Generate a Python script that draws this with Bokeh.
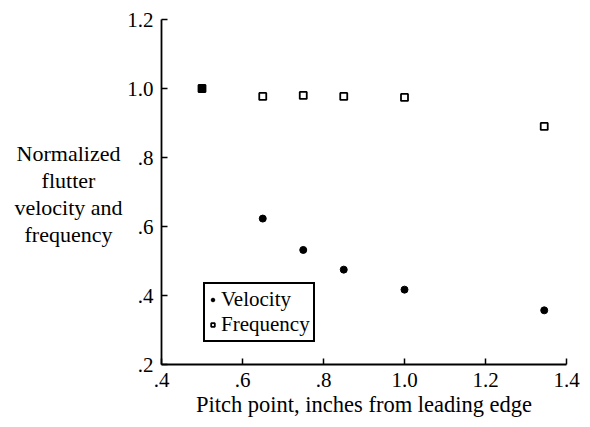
from bokeh.plotting import figure
from bokeh.layouts import row
from bokeh.models import (ColumnDataSource, Range1d, FixedTicker, Legend, LegendItem)
from bokeh.core.properties import value
from bokeh.embed import file_html
from bokeh.resources import INLINE

# ---- data ----
pitch_point = [0.5, 0.65, 0.75, 0.85, 1.0, 1.345]
velocity = [1.0, 0.623, 0.532, 0.475, 0.417, 0.357]
frequency = [1.0, 0.977, 0.98, 0.977, 0.974, 0.890]

x_ticks = [0.4, 0.6, 0.8, 1.0, 1.2, 1.4]
x_tick_labels = [".4", ".6", ".8", "1.0", "1.2", "1.4"]
y_ticks = [0.2, 0.4, 0.6, 0.8, 1.0, 1.2]
y_tick_labels = [".2", ".4", ".6", ".8", "1.0", "1.2"]

y_title_lines = ["Normalized", "flutter", "velocity and", "frequency"]
x_title = "Pitch point, inches from leading edge"

FONT = "Liberation Serif"
H = 419
LEFT_W = 124

# ---- left panel holding the horizontal y-axis title ----
pl = figure(frame_width=LEFT_W, frame_height=H, output_backend="svg", toolbar_location=None,
            x_range=Range1d(0, LEFT_W), y_range=Range1d(H, 0),
            x_axis_location=None, y_axis_location=None,
            min_border=0, min_border_left=0, min_border_right=0,
            min_border_top=0, min_border_bottom=0)
pl.outline_line_color = None
pl.xgrid.grid_line_color = None
pl.ygrid.grid_line_color = None
title_src = ColumnDataSource(dict(
    x=[68] * len(y_title_lines),
    y=[134, 161, 188, 215],
    t=y_title_lines))
pl.text(x="x", y="y", text="t", source=title_src, text_align="center",
        text_baseline="alphabetic", text_font=value(FONT), text_font_size="22px",
        text_color="black")

# ---- main chart ----
src = ColumnDataSource(dict(x=pitch_point, v=velocity, f=frequency))

p = figure(width=582 - LEFT_W, height=H, output_backend="svg", toolbar_location=None,
           x_range=Range1d(0.4, 1.4), y_range=Range1d(0.2, 1.2),
           min_border_left=161 - LEFT_W, min_border_right=16, min_border_top=19,
           min_border_bottom=H - 364)
p.outline_line_color = None
p.xgrid.grid_line_color = None
p.ygrid.grid_line_color = None

for ax, ticks, labels in ((p.xaxis[0], x_ticks, x_tick_labels), (p.yaxis[0], y_ticks, y_tick_labels)):
    ax.ticker = FixedTicker(ticks=ticks)
    ax.major_label_overrides = {t: l for t, l in zip(ticks, labels)}
    ax.minor_tick_line_color = None
    ax.major_tick_in = 6
    ax.major_tick_out = 0
    ax.major_tick_line_width = 1.5
    ax.axis_line_width = 1.8
    ax.axis_line_color = "black"
    ax.major_tick_line_color = "black"
    ax.major_label_text_font = FONT
    ax.major_label_text_font_size = "21px"
    ax.major_label_text_color = "black"

p.xaxis[0].major_label_standoff = 8
p.yaxis[0].major_label_standoff = 8
p.xaxis[0].axis_label = x_title
p.xaxis[0].axis_label_text_font = FONT
p.xaxis[0].axis_label_text_font_size = "22.5px"
p.xaxis[0].axis_label_text_font_style = "normal"
p.xaxis[0].axis_label_text_color = "black"
p.xaxis[0].axis_label_standoff = 2

r_f = p.scatter("x", "f", source=src, marker="square", size=7, fill_color="white",
                line_color="black", line_width=1.8)
r_v = p.scatter("x", "v", source=src, marker="circle", size=7, fill_color="black",
                line_color="black")

legend = Legend(items=[LegendItem(label="Velocity", renderers=[r_v]),
                       LegendItem(label="Frequency", renderers=[r_f])],
                location=(42, 22))
legend.label_text_font = FONT
legend.label_text_font_size = "21px"
legend.label_text_color = "black"
legend.glyph_width = 9
legend.glyph_height = 25
legend.label_standoff = 4
legend.label_height = 25
legend.padding = 3
legend.spacing = 0
legend.margin = 0
legend.border_line_color = "black"
legend.border_line_alpha = 1
legend.border_line_width = 2
legend.background_fill_alpha = 1
p.add_layout(legend, "center")

layout = row(pl, p)
open("out.html", "w").write(file_html(layout, INLINE))
